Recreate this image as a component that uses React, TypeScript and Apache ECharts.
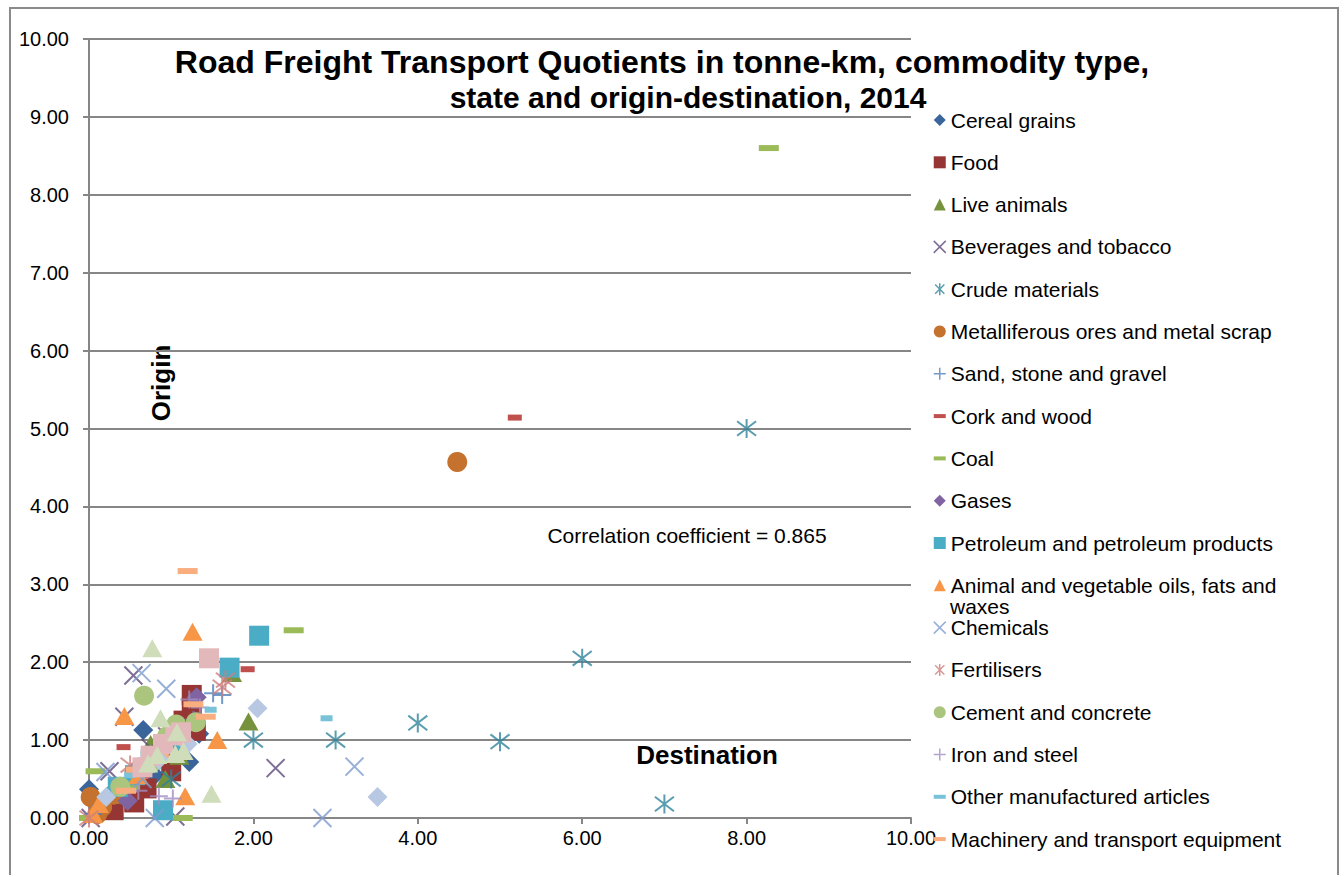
import React, { useEffect, useRef } from "react";
import * as echarts from "echarts";

// ---- Data (x = Destination quotient, y = Origin quotient) ----
const cerealGrains = [[0.0, 0.37], [0.66, 1.13], [1.34, 1.08], [1.22, 0.72], [0.95, 0.9], [0.55, 0.6], [0.25, 0.25], [0.8, 0.55]];
const food = [[1.25, 1.58], [1.25, 1.42], [1.15, 1.25], [0.92, 0.95], [1.0, 0.6], [0.7, 0.38], [0.55, 0.2], [0.3, 0.1], [1.3, 1.12]];
const liveAnimals = [[1.94, 1.24], [1.74, 1.86], [0.93, 0.5], [0.75, 0.95], [1.1, 0.8], [0.4, 0.3], [0.05, 0.05]];
const beverages = [[0.54, 1.83], [2.27, 0.64], [0.43, 1.3], [0.25, 0.6], [1.05, 0.02], [0.75, 0.9], [0.02, 0.0], [0.95, 1.05]];
const crudeMaterials = [[2, 1.0], [3, 1.0], [4, 1.22], [5, 0.98], [6, 2.05], [7, 0.18], [8, 5.0], [1, 0.5]];
const metalliferous = [[4.48, 4.57], [0.02, 0.27], [0.16, 0.14], [0.1, 0.05], [0.3, 0.3]];
const sandStone = [[1.51, 1.6], [1.27, 1.26], [1.62, 1.58], [1.0, 1.0], [0.7, 0.7], [0.4, 0.4], [0.05, 0.05]];
const corkWood = [[5.18, 5.14], [1.93, 1.91], [0.42, 0.91], [1.0, 0.85], [0.65, 0.55]];
const coal = [[8.27, 8.6], [2.49, 2.41], [0.08, 0.6], [1.14, 0.0], [0.0, 0.0], [0.5, 0.4]];
const gases = [[1.31, 1.55], [0.47, 0.22], [0.85, 0.85], [0.6, 0.6]];
const petroleum = [[2.07, 2.34], [1.71, 1.93], [0.9, 0.1], [0.56, 0.55], [0.75, 0.75], [0.35, 0.4], [1.05, 1.0]];
const animalOils = [[1.26, 2.39], [0.43, 1.31], [1.56, 1.0], [1.17, 0.28], [0.12, 0.18], [0.05, 0.05], [0.6, 0.55]];
const chemicals = [[0.94, 1.66], [0.64, 1.86], [3.23, 0.66], [2.84, 0.0], [0.2, 0.59], [0.65, 0.5], [0.8, 0.0]];
const fertilisers = [[1.66, 1.77], [1.62, 1.68], [0.0, 0.0], [0.5, 0.68], [0.9, 0.8]];
const cement = [[0.67, 1.57], [1.3, 1.23], [1.06, 1.2], [0.95, 1.05], [0.38, 0.4], [0.75, 0.7]];
const ironSteel = [[1.22, 1.52], [0.85, 0.28], [0.6, 0.35], [1.02, 0.25], [1.35, 1.42], [0.95, 0.9]];
const otherManufactured = [[2.89, 1.28], [1.48, 1.39], [0.95, 0.75], [0.5, 0.55]];
const machinery = [[1.2, 3.17], [1.42, 1.3], [1.27, 1.46], [0.57, 0.62], [0.45, 0.35], [0.85, 0.8]];
const series19 = [[2.05, 1.41], [3.51, 0.27], [0.21, 0.27], [1.2, 0.95], [0.85, 0.75]];
const series20 = [[1.46, 2.05], [1.05, 1.06], [0.9, 0.95], [0.75, 0.8], [0.65, 0.65], [1.12, 1.1]];
const series21 = [[0.77, 2.18], [1.49, 0.31], [0.87, 1.28], [1.07, 1.1], [0.83, 0.81], [1.05, 0.82], [1.15, 0.86], [0.72, 0.7]];

const yTicks = [0, 1, 2, 3, 4, 5, 6, 7, 8, 9, 10];
const xTicks = [0, 2, 4, 6, 8, 10];

const titleLine1 = "Road Freight Transport Quotients in tonne-km, commodity type,";
const titleLine2 = "state and origin-destination, 2014";
const correlationText = "Correlation coefficient = 0.865";

const FONT = "'Liberation Sans', Arial, Helvetica, sans-serif";
const X_PATH = "path://M0,0L10,10M10,0L0,10";
const STAR_PATH = "path://M0,0L10,10M10,0L0,10M5,-1.5L5,11.5";
const PLUS_PATH = "path://M5,0L5,10M0,5L10,5";
const DASH_ICON = "path://M0,0h12v4h-12z";

type Spec = {
  name: string;
  data: number[][];
  symbol: string;
  size: number | number[];
  color: string;
  stroke?: boolean;
  legendIcon?: string;
  inLegend: boolean;
};

const specs: Spec[] = [
  { name: "Cereal grains", data: cerealGrains, symbol: "diamond", size: 20, color: "#3A659A", inLegend: true },
  { name: "Food", data: food, symbol: "rect", size: 20, color: "#963634", inLegend: true },
  { name: "Live animals", data: liveAnimals, symbol: "triangle", size: [20, 18], color: "#76923C", inLegend: true },
  { name: "Beverages and tobacco", data: beverages, symbol: X_PATH, size: 18, color: "#5F4A7B", stroke: true, inLegend: true },
  { name: "Crude materials", data: crudeMaterials, symbol: STAR_PATH, size: 19, color: "#31859C", stroke: true, inLegend: true },
  { name: "Metalliferous ores and metal scrap", data: metalliferous, symbol: "circle", size: 20, color: "#C5722F", inLegend: true },
  { name: "Sand, stone and gravel", data: sandStone, symbol: PLUS_PATH, size: 18, color: "#4F81BD", stroke: true, inLegend: true },
  { name: "Cork and wood", data: corkWood, symbol: "rect", size: [14, 6], color: "#C0504D", legendIcon: DASH_ICON, inLegend: true },
  { name: "Coal", data: coal, symbol: "rect", size: [20, 6], color: "#9BBB59", legendIcon: DASH_ICON, inLegend: true },
  { name: "Gases", data: gases, symbol: "diamond", size: 20, color: "#8064A2", inLegend: true },
  { name: "Petroleum and petroleum products", data: petroleum, symbol: "rect", size: 20, color: "#4BACC6", inLegend: true },
  { name: "Animal and vegetable oils, fats and waxes", data: animalOils, symbol: "triangle", size: [20, 18], color: "#F79646", inLegend: true },
  { name: "Chemicals", data: chemicals, symbol: X_PATH, size: 18, color: "#7E9CCD", stroke: true, inLegend: true },
  { name: "Fertilisers", data: fertilisers, symbol: STAR_PATH, size: 19, color: "#CD7F7D", stroke: true, inLegend: true },
  { name: "Cement and concrete", data: cement, symbol: "circle", size: 20, color: "#ABC57F", inLegend: true },
  { name: "Iron and steel", data: ironSteel, symbol: PLUS_PATH, size: 18, color: "#A08EC0", stroke: true, inLegend: true },
  { name: "Other manufactured articles", data: otherManufactured, symbol: "rect", size: [12, 6], color: "#7AC2D8", legendIcon: DASH_ICON, inLegend: true },
  { name: "Machinery and transport equipment", data: machinery, symbol: "rect", size: [20, 6], color: "#F9AE80", legendIcon: DASH_ICON, inLegend: true },
  { name: "Series 19", data: series19, symbol: "diamond", size: 20, color: "#B8C8E2", inLegend: false },
  { name: "Series 20", data: series20, symbol: "rect", size: 20, color: "#E3B8BA", inLegend: false },
  { name: "Series 21", data: series21, symbol: "triangle", size: [20, 18], color: "#CFDDBA", inLegend: false },
];

const LONG_NAME = "Animal and vegetable oils, fats and waxes";

export default function App() {
  const ref = useRef<HTMLDivElement>(null);
  useEffect(() => {
    if (!ref.current) return;
    const chart = echarts.init(ref.current, null, { renderer: "svg" });
    const option: any = {
      animation: false,
      backgroundColor: "#ffffff",
      textStyle: { fontFamily: FONT },
      grid: { left: 89, right: 430, top: 39, bottom: 57, containLabel: false },
      xAxis: {
        type: "value",
        min: xTicks[0],
        max: xTicks[xTicks.length - 1],
        interval: 2,
        splitLine: { show: false },
        axisLine: { show: true, lineStyle: { color: "#868686", width: 2 } },
        axisTick: { show: true, length: 6, lineStyle: { color: "#868686", width: 2 } },
        axisLabel: { fontSize: 20, color: "#000", margin: 10, fontFamily: FONT, formatter: (v: number) => v.toFixed(2) },
      },
      yAxis: {
        type: "value",
        min: yTicks[0],
        max: yTicks[yTicks.length - 1],
        interval: 1,
        splitLine: { show: true, lineStyle: { color: "#868686", width: 2 } },
        axisLine: { show: true, lineStyle: { color: "#868686", width: 2 } },
        axisTick: { show: true, length: 6, lineStyle: { color: "#868686", width: 2 } },
        axisLabel: { fontSize: 20, color: "#000", margin: 20, fontFamily: FONT, formatter: (v: number) => v.toFixed(2) },
      },
      legend: {
        orient: "vertical",
        left: 933,
        top: 109,
        itemWidth: 12,
        itemHeight: 12,
        itemGap: 20.3,
        padding: 0,
        textStyle: { fontSize: 21, color: "#000", fontFamily: FONT, lineHeight: 22 },
        formatter: (name: string) => (name === LONG_NAME ? "Animal and vegetable oils, fats and" : name),
        data: specs
          .filter((s) => s.inLegend)
          .map((s) => {
            const item: any = { name: s.name };
            if (s.legendIcon) item.icon = s.legendIcon;
            if (s.stroke) item.itemStyle = { color: s.color, borderColor: s.color, borderWidth: 1.5 };
            return item;
          }),
      },
      graphic: [
        {
          type: "rect",
          shape: { x: 10, y: 8, width: 1328, height: 900 },
          style: { fill: "none", stroke: "#8a8a8a", lineWidth: 2 },
          silent: true,
          z: -10,
        },
        {
          type: "text",
          x: 662,
          y: 62,
          style: { text: titleLine1, font: `bold 32px ${FONT}`, fill: "#000", align: "center", verticalAlign: "middle", textAlign: "center", textVerticalAlign: "middle" },
        },
        {
          type: "text",
          x: 688,
          y: 97,
          style: { text: titleLine2, font: `bold 30px ${FONT}`, fill: "#000", align: "center", verticalAlign: "middle", textAlign: "center", textVerticalAlign: "middle" },
        },
        {
          type: "text",
          x: 161,
          y: 383,
          rotation: Math.PI / 2,
          style: { text: "Origin", font: `bold 26px ${FONT}`, fill: "#000", align: "center", verticalAlign: "middle", textAlign: "center", textVerticalAlign: "middle" },
        },
        {
          type: "text",
          x: 707,
          y: 755,
          style: { text: "Destination", font: `bold 26px ${FONT}`, fill: "#000", align: "center", verticalAlign: "middle", textAlign: "center", textVerticalAlign: "middle" },
        },
        {
          type: "text",
          x: 687,
          y: 535,
          style: { text: correlationText, font: `21px ${FONT}`, fill: "#000", align: "center", verticalAlign: "middle", textAlign: "center", textVerticalAlign: "middle" },
        },
        {
          type: "text",
          x: 950,
          y: 606,
          style: { text: "waxes", font: `21px ${FONT}`, fill: "#000", align: "left", verticalAlign: "middle", textAlign: "left", textVerticalAlign: "middle" },
        },
      ],
      series: specs.map((s) => ({
        name: s.name,
        type: "scatter",
        data: s.data,
        symbol: s.symbol,
        symbolSize: s.size,
        itemStyle: s.stroke
          ? { color: s.color, borderColor: s.color, borderWidth: 2 }
          : { color: s.color, opacity: 1 },
        emphasis: { disabled: true },
      })),
    };
    chart.setOption(option);
    return () => chart.dispose();
  }, []);
  return (
    <div
      ref={ref}
      style={{ position: "absolute", left: 0, top: 0, width: 1341, height: 875, background: "#fff" }}
    />
  );
}
